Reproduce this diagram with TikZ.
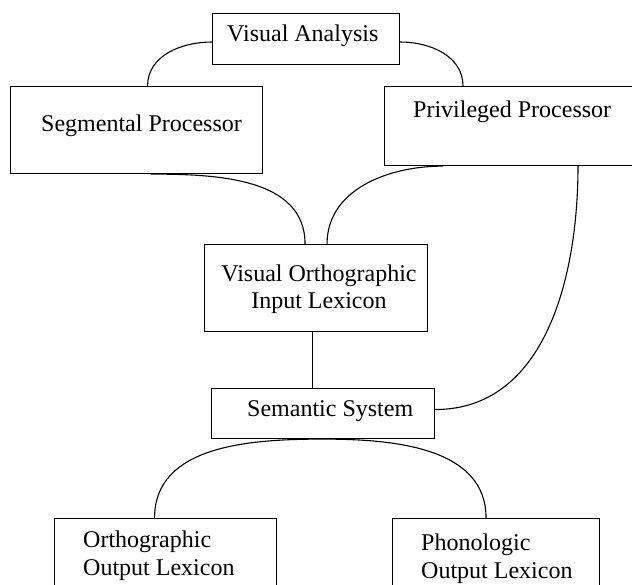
\documentclass[tikz,border=0pt]{standalone}
\usepackage{fontspec}
\setmainfont{Liberation Serif}
\usepackage{tikz}
\usetikzlibrary{positioning}
\definecolor{ink}{RGB}{0,0,0}

\begin{document}
\begin{tikzpicture}[x=1pt,y=-1pt,
    box/.style={draw=ink,line width=1.1pt,rectangle,inner sep=0pt,
      anchor=north west},
    lbl/.style={inner sep=0pt,anchor=base west,align=left,text=ink,
      font=\fontsize{24}{27.5}\selectfont},
    link/.style={draw=ink,line width=1.1pt}]
  \useasboundingbox (0,0) rectangle (632,585);
  \clip (0,0) rectangle (632,585);
  % boxes
  \node[box,minimum width=187pt,minimum height=51pt] (va) at (212,13) {};
  \node[box,minimum width=252pt,minimum height=87pt] (seg) at (10,86) {};
  \node[box,minimum width=256pt,minimum height=79pt] (priv) at (384,86) {};
  \node[box,minimum width=223pt,minimum height=87pt] (voil) at (204,244) {};
  \node[box,minimum width=223pt,minimum height=50pt] (sem) at (211,388) {};
  \node[box,minimum width=222pt,minimum height=90pt] (orth) at (54,518) {};
  \node[box,minimum width=207pt,minimum height=90pt] (phon) at (392,518) {};
  % labels (base = last line)
  \node[lbl] (va-t) at (227,42) {Visual Analysis};
  \node[lbl] (seg-t) at (41,132) {Segmental Processor};
  \node[lbl] (priv-t) at (413,118) {Privileged Processor};
  \node[lbl,anchor=base,align=center] (voil-t) at (319,309)
    {Visual Orthographic\\Input Lexicon};
  \node[lbl] (sem-t) at (247,416) {Semantic System};
  \node[lbl] (orth-t) at (83,575) {Orthographic\\Output Lexicon};
  \node[lbl] (phon-t) at (421,578) {Phonologic\\Output Lexicon};
  % links
  \draw[link] (va.west |- va-t.base) to[out=180,in=90] ([xshift=11pt]seg.north);
  \draw[link] (va.east |- va-t.base) to[out=0,in=90] ([xshift=79pt]priv.north west);
  \draw[link] ([xshift=14pt]seg.south) to[out=0,in=90] ([xshift=-11pt]voil.north);
  \draw[link] ([xshift=59pt]priv.south west) to[out=180,in=90] ([xshift=11pt]voil.north);
  \draw[link] ([xshift=194pt]priv.south west) to[out=-90,in=0] ([yshift=4pt]sem.east);
  \draw[link] ([xshift=-4pt]voil.south) -- ([xshift=-4pt]voil.south |- sem.north);
  \draw[link] ([xshift=-11pt]orth.north) to[out=90,in=180] (sem.south)
    to[out=0,in=90] ([xshift=-10pt]phon.north);
\end{tikzpicture}
\end{document}
